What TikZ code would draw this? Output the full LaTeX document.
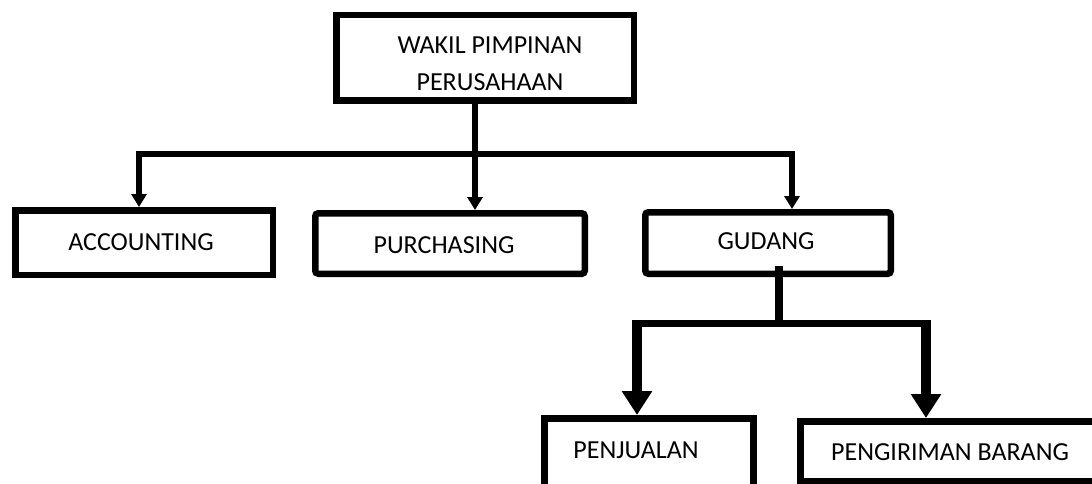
\documentclass[tikz,border=0pt]{standalone}
\usepackage{fontspec}
\setmainfont{Carlito}
\usetikzlibrary{arrows.meta}
\begin{document}
\begin{tikzpicture}[x=1pt,y=-1pt,
    box/.style={draw,line width=6.5pt,inner sep=0pt},
    txt/.style={inner sep=0pt,font=\fontsize{26}{37}\selectfont},
    arr/.style={line width=5.5pt,-{Triangle[width=15pt,length=13pt]}},
    bar/.style={line width=7pt,line cap=rect},
    arrbig/.style={line width=9.5pt,-{Triangle[width=29pt,length=24pt]}}]
    \useasboundingbox (0,0) rectangle (1092,484);
    \clip (0,0) rectangle (1092,484);

    % boxes
    \node[box,minimum width=297.5pt,minimum height=85.5pt] (boss) at (485,58) {};
    \node[box,minimum width=257.5pt,minimum height=64.5pt] (acc) at (144,242.5) {};
    \node[box,rounded corners=3pt,minimum width=269.5pt,minimum height=60.5pt] (pur) at (450,243.5) {};
    \node[box,rounded corners=3pt,minimum width=245.5pt,minimum height=61.5pt] (gud) at (768,243) {};
    \node[box,line width=7pt,minimum width=209pt,minimum height=101.5pt] (pen) at (649,469.25) {};
    \node[box,line width=7pt,minimum width=299.5pt,minimum height=60pt] (kirim) at (950.25,451.5) {};

    % texts
    \node[txt,align=center] (bossText) at (490,63.5) {WAKIL PIMPINAN\\PERUSAHAAN};
    \node[txt,anchor=base] (accText) at (141,250) {ACCOUNTING};
    \node[txt,anchor=base] (purText) at (444,253) {PURCHASING};
    \node[txt,anchor=base] (gudText) at (766,249) {GUDANG};
    \node[txt,anchor=base] (penText) at (636,458) {PENJUALAN};
    \node[txt,anchor=base] (kirimText) at (950,460) {PENGIRIMAN BARANG};

    % first level
    \coordinate (split) at (475,154);
    \coordinate (barL) at (139,154);
    \coordinate (barR) at (792,154);
    \draw[arr] (boss.south -| split) -- (split |- pur.north);
    \draw[arr] (split) -| (barL |- acc.north);
    \draw[arr] (split) -| (barR |- gud.north);

    % second level
    \coordinate (split2) at (779,323.5);
    \coordinate (penX) at (637,323.5);
    \coordinate (kirimX) at (926,323.5);
    \draw[line width=7.5pt,shorten <=-11pt] (gud.south -| split2) -- (split2);
    \draw[bar] (penX) -- (kirimX);
    \draw[arrbig] ([yshift=3.5pt]penX) -- (penX |- pen.north);
    \draw[arrbig] ([yshift=3.5pt]kirimX) -- (kirimX |- kirim.north);
\end{tikzpicture}
\end{document}
